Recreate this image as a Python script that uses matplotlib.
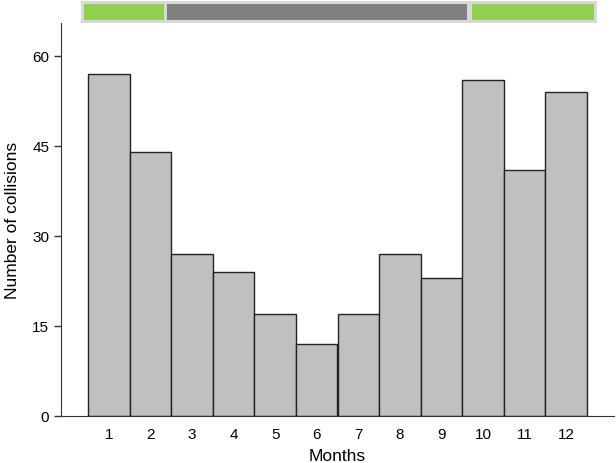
import matplotlib.pyplot as plt
from matplotlib.patches import Rectangle

plt.rcParams['font.family'] = ['Liberation Sans', 'DejaVu Sans']

months = list(range(1, 13))
collisions = [57, 44, 27, 24, 17, 12, 17, 27, 23, 56, 41, 54]
y_ticks = [0, 15, 30, 45, 60]

# season strip: (start, end, colour) in month units
season_start = [0.40, 2.40, 9.73]
season_end = [2.33, 9.61, 12.66]
season_color = ['#92d050', '#808080', '#92d050']

fig = plt.figure(figsize=(6.16, 4.64), dpi=100)
ax = fig.add_axes([61 / 616, 47 / 464, 553 / 616, 393 / 464])

ax.bar(months, collisions, width=1.0, color='#c0c0c0', edgecolor='#222222', linewidth=1.0)
ax.set_xlim(-0.15, 13.15)
ax.set_ylim(0, 65.5)
ax.set_xticks(months)
ax.set_yticks(y_ticks)
ax.tick_params(axis='x', length=0, pad=8, labelsize=11)
ax.tick_params(axis='y', length=5, width=1, color='#333333', labelsize=11)
ax.spines['top'].set_visible(False)
ax.spines['right'].set_visible(False)
for s in ['left', 'bottom']:
    ax.spines[s].set_color('#333333')
ax.set_xlabel('Months', fontsize=12.5, labelpad=5)
ax.set_ylabel('Number of collisions', fontsize=12.5, labelpad=9)

# strip above the plot, same x scale
sx = fig.add_axes([61 / 616, 1 - 24 / 464, 553 / 616, 22 / 464])
sx.set_xlim(ax.get_xlim())
sx.set_ylim(0, 1)
sx.axis('off')
sx.add_patch(Rectangle((season_start[0] - 0.07, 0.0), season_end[-1] - season_start[0] + 0.14, 1.0,
                       facecolor='#d9d9d9', edgecolor='none'))
for a, b, c in zip(season_start, season_end, season_color):
    sx.add_patch(Rectangle((a, 0.15), b - a, 0.7, facecolor=c, edgecolor='none'))

fig.savefig('out.png', dpi=100)
